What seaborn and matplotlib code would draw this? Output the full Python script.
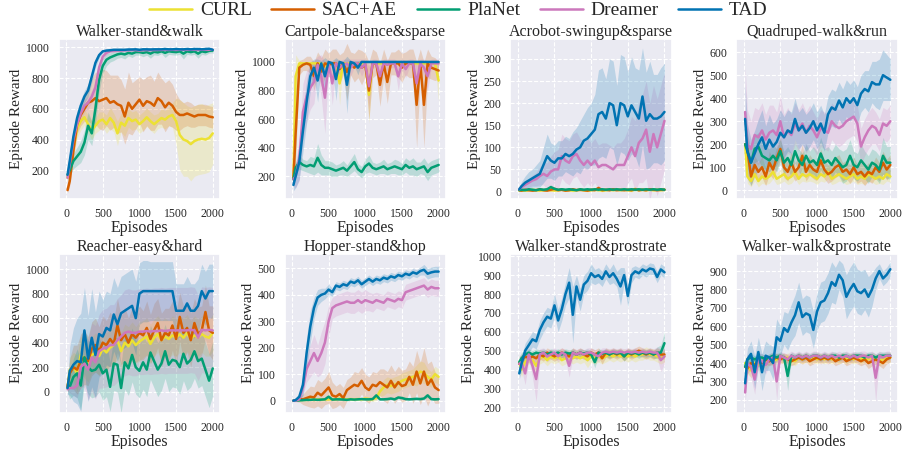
import matplotlib
matplotlib.use("Agg")
import matplotlib.pyplot as plt
import seaborn as sns
from matplotlib.ticker import MultipleLocator

# --- data (episodes every 50) ---
EPISODES = [20, 50, 100, 150, 200, 250, 300, 350, 400, 450,
            500, 550, 600, 650, 700, 750, 800, 850, 900, 950,
            1000, 1050, 1100, 1150, 1200, 1250, 1300, 1350, 1400, 1450,
            1500, 1550, 1600, 1650, 1700, 1750, 1800, 1850, 1900, 1950, 2000]

METHODS = ["CURL", "SAC+AE", "PlaNet", "Dreamer", "TAD"]
COLORS = ["#ECE133", "#D55E00", "#029E73", "#CC78BC", "#0173B2"]

# Walker-stand&walk
wsw_curl = [150, 220, 340, 470, 520, 545, 500, 460, 490, 520,
            530, 500, 540, 510, 440, 510, 490, 540, 520, 530,
            500, 520, 545, 520, 500, 520, 540, 530, 550, 560,
            520, 430, 400, 390, 370, 390, 400, 405, 400, 410, 440]
wsw_curl_sd = [30, 40, 50, 60, 60, 50, 60, 60, 50, 60,
               50, 60, 70, 60, 80, 60, 70, 60, 60, 60,
               60, 60, 60, 60, 60, 50, 60, 60, 60, 80,
               150, 230, 240, 230, 240, 230, 230, 230, 220, 220, 200]
wsw_sac = [70, 130, 330, 500, 560, 600, 640, 650, 670, 650,
           660, 670, 640, 650, 630, 620, 550, 640, 600, 630,
           660, 620, 650, 640, 620, 670, 650, 610, 640, 620,
           580, 560, 560, 570, 560, 550, 560, 560, 560, 550, 545]
wsw_sac_sd = [20, 30, 50, 60, 70, 80, 120, 150, 170, 180,
              200, 180, 180, 170, 190, 170, 180, 200, 170, 160,
              150, 170, 160, 180, 160, 170, 150, 160, 150, 140,
              120, 100, 80, 80, 80, 70, 70, 70, 70, 70, 70]
wsw_planet = [170, 200, 260, 290, 320, 380, 490, 440, 600, 790,
              880, 920, 935, 945, 955, 960, 955, 965, 960, 970,
              970, 965, 970, 960, 972, 968, 975, 965, 975, 972,
              970, 975, 960, 975, 970, 975, 960, 975, 970, 978, 980]
wsw_planet_sd = [30, 40, 50, 60, 70, 80, 90, 80, 100, 80,
                 50, 40, 30, 30, 25, 25, 30, 20, 25, 20,
                 20, 25, 20, 30, 20, 20, 15, 30, 20, 20,
                 20, 20, 35, 20, 20, 20, 30, 20, 20, 15, 15]
wsw_dreamer = [150, 240, 400, 500, 570, 620, 640, 680, 740, 870,
               940, 965, 975, 978, 980, 980, 982, 982, 983, 983,
               980, 983, 983, 983, 983, 984, 984, 985, 984, 985,
               984, 985, 985, 985, 985, 985, 985, 985, 985, 985, 985]
wsw_dreamer_sd = [20, 40, 50, 50, 40, 40, 40, 40, 40, 30,
                  20, 15, 10, 10, 10, 10, 10, 8, 8, 8,
                  8, 8, 8, 8, 8, 8, 8, 8, 8, 8,
                  8, 8, 8, 8, 8, 8, 8, 8, 8, 8, 8]
wsw_tad = [170, 260, 420, 540, 620, 680, 720, 810, 900, 950,
           975, 980, 982, 985, 985, 985, 985, 987, 987, 988,
           985, 988, 988, 987, 988, 988, 988, 990, 988, 988,
           990, 988, 988, 990, 988, 990, 990, 988, 990, 992, 985]
wsw_tad_sd = [20, 40, 50, 50, 40, 40, 40, 40, 30, 20,
              10, 10, 8, 8, 8, 8, 8, 8, 8, 8,
              8, 8, 8, 8, 8, 8, 8, 8, 8, 8,
              8, 8, 8, 8, 8, 8, 8, 8, 8, 8, 8]

# Cartpole-balance&sparse
cbs_curl = [200, 900, 990, 990, 990, 990, 990, 990, 990, 970,
            990, 990, 990, 850, 990, 990, 990, 990, 990, 990,
            990, 770, 990, 990, 990, 990, 990, 990, 990, 990,
            990, 990, 990, 990, 990, 990, 990, 990, 990, 990, 870]
cbs_curl_sd = [50, 150, 20, 10, 10, 10, 20, 10, 10, 40,
               10, 10, 10, 150, 10, 10, 10, 10, 10, 10,
               10, 200, 10, 10, 10, 10, 10, 10, 10, 10,
               10, 10, 10, 10, 10, 10, 10, 10, 10, 10, 150]
cbs_sac = [180, 500, 960, 980, 990, 980, 900, 990, 930, 990,
           980, 990, 990, 950, 990, 930, 990, 960, 990, 960,
           980, 800, 990, 990, 840, 990, 860, 990, 990, 990,
           960, 990, 990, 990, 700, 990, 700, 990, 960, 950, 940]
cbs_sac_sd = [50, 200, 50, 40, 50, 60, 100, 80, 100, 100,
              80, 100, 100, 100, 80, 200, 80, 100, 100, 120,
              80, 200, 100, 80, 150, 100, 150, 80, 80, 100,
              100, 80, 100, 100, 300, 100, 300, 100, 80, 80, 60]
cbs_planet = [180, 260, 300, 280, 270, 280, 270, 330, 280, 260,
              260, 250, 240, 250, 260, 240, 270, 300, 250, 230,
              270, 290, 260, 250, 260, 270, 250, 260, 270, 260,
              250, 280, 260, 270, 250, 260, 270, 230, 260, 270, 280]
cbs_planet_sd = [30, 40, 50, 40, 40, 60, 60, 100, 70, 50,
                 50, 50, 40, 40, 50, 40, 50, 60, 40, 40,
                 50, 60, 40, 40, 40, 50, 40, 40, 50, 50,
                 40, 50, 50, 60, 50, 40, 60, 60, 50, 50, 50]
cbs_dreamer = [180, 200, 320, 650, 760, 820, 860, 980, 900, 750,
               990, 850, 990, 960, 980, 990, 960, 990, 990, 960,
               990, 830, 990, 990, 900, 990, 980, 990, 990, 900,
               990, 950, 990, 990, 850, 990, 960, 900, 990, 990, 990]
cbs_dreamer_sd = [50, 80, 150, 200, 180, 150, 150, 60, 150, 250,
                  30, 150, 30, 50, 40, 30, 60, 30, 30, 60,
                  30, 150, 30, 30, 100, 30, 40, 30, 30, 100,
                  30, 60, 30, 30, 150, 30, 60, 100, 30, 30, 30]
cbs_tad = [140, 200, 300, 520, 720, 900, 960, 870, 990, 900,
           1000, 990, 880, 1000, 990, 840, 1000, 990, 960, 1000,
           1000, 1000, 1000, 1000, 1000, 1000, 1000, 1000, 1000, 1000,
           1000, 1000, 1000, 1000, 1000, 1000, 1000, 1000, 1000, 1000, 1000]
cbs_tad_sd = [40, 80, 120, 150, 150, 100, 60, 150, 20, 130,
              10, 20, 150, 10, 20, 200, 10, 20, 50, 10,
              5, 5, 5, 5, 5, 5, 5, 5, 5, 5,
              5, 5, 5, 5, 5, 5, 5, 5, 5, 5, 5]

# Acrobot-swingup&sparse
acro_curl = [2, 3, 2, 3, 4, 3, 2, 3, 4, 3,
             2, 3, 4, 3, 3, 2, 3, 4, 3, 2,
             3, 4, 3, 2, 3, 4, 3, 4, 3, 4,
             3, 2, 6, 3, 4, 3, 4, 3, 4, 3, 4]
acro_curl_sd = [2, 2, 2, 2, 3, 2, 2, 3, 2, 3,
                2, 3, 2, 3, 2, 3, 2, 3, 2, 3,
                2, 3, 2, 3, 2, 3, 2, 3, 2, 3,
                2, 3, 4, 3, 2, 3, 2, 3, 2, 3, 2]
acro_sac = [3, 2, 4, 3, 2, 3, 5, 3, 2, 4,
            6, 3, 4, 2, 3, 5, 3, 4, 3, 2,
            4, 3, 8, 3, 4, 3, 5, 3, 4, 3,
            4, 3, 5, 3, 4, 3, 5, 4, 3, 4, 4]
acro_sac_sd = [2, 2, 3, 2, 2, 2, 3, 2, 2, 3,
               4, 2, 3, 2, 2, 3, 2, 3, 2, 2,
               3, 2, 5, 2, 3, 2, 3, 2, 3, 2,
               3, 2, 3, 2, 3, 2, 3, 3, 2, 3, 3]
acro_planet = [3, 4, 3, 5, 4, 3, 5, 4, 5, 10,
               6, 4, 5, 4, 5, 4, 3, 5, 4, 5,
               4, 5, 4, 5, 4, 5, 4, 5, 4, 5,
               4, 5, 4, 5, 4, 5, 4, 5, 4, 5, 4]
acro_planet_sd = [2, 3, 2, 3, 3, 2, 3, 3, 3, 5,
                  4, 3, 3, 3, 3, 3, 2, 3, 3, 3,
                  3, 3, 3, 3, 3, 3, 3, 3, 3, 3,
                  3, 3, 3, 3, 3, 3, 3, 3, 3, 3, 3]
acro_dreamer = [5, 10, 15, 20, 25, 28, 35, 40, 35, 45,
                50, 50, 80, 70, 65, 80, 85, 70, 60, 70,
                60, 70, 55, 60, 60, 55, 50, 60, 60, 60,
                80, 100, 80, 110, 120, 140, 90, 130, 100, 130, 160]
acro_dreamer_sd = [3, 5, 8, 10, 12, 15, 20, 25, 30, 35,
                   40, 45, 50, 50, 50, 50, 50, 50, 50, 50,
                   50, 50, 50, 50, 50, 50, 50, 50, 50, 60,
                   60, 70, 80, 90, 100, 110, 110, 110, 110, 110, 110]
acro_tad = [5, 12, 20, 25, 30, 35, 40, 60, 80, 70,
            65, 75, 75, 85, 80, 85, 95, 100, 115, 120,
            130, 140, 175, 180, 165, 200, 195, 150, 200, 195,
            170, 195, 180, 165, 215, 160, 175, 165, 165, 170, 180]
acro_tad_sd = [5, 10, 15, 20, 20, 25, 30, 40, 50, 40,
               40, 40, 40, 40, 40, 50, 50, 60, 60, 70,
               70, 80, 100, 100, 90, 100, 100, 90, 110, 110,
               100, 110, 100, 110, 110, 110, 120, 100, 100, 110, 110]

# Quadruped-walk&run
quad_curl = [200, 60, 40, 70, 40, 60, 50, 60, 80, 50,
             60, 70, 50, 60, 80, 50, 70, 60, 70, 60,
             50, 70, 60, 80, 50, 60, 70, 60, 50, 60,
             70, 50, 60, 50, 70, 60, 50, 60, 50, 70, 60]
quad_curl_sd = [60, 30, 25, 30, 25, 30, 25, 30, 30, 25,
                30, 30, 25, 30, 30, 25, 30, 25, 30, 25,
                25, 30, 25, 30, 25, 30, 30, 25, 25, 30,
                30, 25, 30, 25, 30, 25, 25, 30, 25, 30, 25]
quad_sac = [200, 180, 60, 110, 80, 100, 60, 120, 90, 140,
            180, 100, 80, 120, 80, 100, 150, 80, 110, 90,
            80, 130, 90, 70, 80, 100, 110, 80, 90, 70,
            100, 70, 80, 60, 80, 70, 100, 80, 120, 90, 110]
quad_sac_sd = [80, 60, 40, 40, 40, 45, 40, 50, 40, 50,
               50, 45, 40, 45, 40, 45, 50, 40, 45, 40,
               40, 50, 40, 40, 40, 45, 45, 40, 40, 40,
               45, 40, 40, 40, 40, 40, 45, 40, 50, 45, 45]
quad_planet = [200, 170, 120, 180, 190, 150, 140, 130, 150, 130,
               170, 120, 140, 110, 170, 130, 110, 150, 120, 130,
               110, 160, 120, 130, 110, 140, 120, 100, 110, 150,
               110, 100, 130, 110, 90, 120, 110, 90, 150, 120, 120]
quad_planet_sd = [150, 80, 60, 60, 60, 50, 50, 50, 50, 50,
                  50, 50, 50, 50, 50, 50, 50, 50, 50, 60,
                  60, 70, 60, 60, 60, 60, 60, 70, 70, 70,
                  60, 60, 70, 60, 60, 60, 60, 60, 80, 70, 70]
quad_dreamer = [340, 200, 180, 240, 230, 260, 220, 250, 260, 240,
                300, 230, 260, 240, 290, 260, 290, 250, 280, 260,
                230, 270, 260, 250, 300, 280, 270, 280, 300, 310,
                320, 290, 190, 230, 260, 280, 270, 240, 290, 280, 300]
quad_dreamer_sd = [200, 150, 120, 120, 120, 120, 110, 120, 110, 100,
                   110, 100, 100, 90, 90, 90, 90, 90, 90, 80,
                   80, 80, 80, 80, 80, 80, 80, 80, 80, 80,
                   80, 80, 80, 80, 80, 80, 70, 70, 70, 70, 70]
quad_tad = [310, 170, 120, 160, 200, 230, 180, 220, 190, 210,
            250, 230, 260, 250, 310, 260, 280, 250, 270, 300,
            260, 290, 250, 330, 360, 350, 390, 360, 400, 380,
            400, 370, 420, 440, 430, 470, 460, 460, 500, 490, 480]
quad_tad_sd = [150, 120, 100, 100, 110, 120, 100, 110, 100, 100,
               100, 90, 90, 90, 90, 80, 80, 80, 80, 80,
               80, 80, 80, 80, 80, 80, 80, 80, 80, 80,
               80, 80, 80, 80, 90, 90, 100, 110, 110, 100, 90]

# Reacher-easy&hard
reach_curl = [40, 180, 200, 150, 300, 270, 230, 300, 320, 290,
              350, 320, 360, 380, 420, 330, 400, 370, 420, 380,
              410, 430, 450, 390, 440, 470, 420, 450, 430, 460,
              440, 470, 440, 480, 430, 460, 440, 470, 450, 440, 480]
reach_curl_sd = [40, 100, 120, 150, 150, 160, 150, 150, 160, 150,
                 150, 160, 150, 150, 160, 150, 150, 160, 150, 150,
                 160, 150, 150, 160, 150, 150, 160, 150, 150, 160,
                 150, 150, 160, 150, 150, 160, 150, 150, 160, 150, 150]
reach_sac = [40, 150, 200, 180, 250, 280, 250, 350, 380, 330,
             400, 380, 430, 390, 540, 420, 470, 400, 470, 440,
             480, 460, 520, 430, 500, 560, 420, 480, 460, 540,
             430, 610, 480, 520, 420, 560, 470, 500, 650, 500, 480]
reach_sac_sd = [40, 120, 180, 200, 220, 220, 200, 220, 220, 200,
                220, 200, 220, 200, 220, 200, 220, 200, 220, 200,
                220, 200, 220, 200, 220, 200, 220, 200, 220, 200,
                220, 200, 220, 200, 220, 200, 220, 200, 220, 200, 220]
reach_planet = [30, 40, 120, 150, 50, 280, 200, 170, 180, 220,
                150, 180, 40, 230, 220, 30, 240, 190, 300, 200,
                170, 240, 180, 320, 250, 180, 230, 330, 220, 260,
                250, 200, 310, 230, 260, 330, 250, 270, 180, 90, 190]
reach_planet_sd = [40, 100, 150, 200, 200, 220, 220, 220, 220, 220,
                   220, 220, 200, 220, 220, 200, 220, 220, 220, 220,
                   220, 220, 220, 220, 220, 220, 220, 220, 220, 220,
                   220, 220, 220, 220, 220, 220, 220, 220, 220, 220, 220]
reach_dreamer = [20, 30, 30, 50, 200, 230, 180, 280, 240, 330,
                 350, 360, 380, 380, 420, 450, 480, 490, 480, 480,
                 490, 490, 495, 490, 495, 495, 500, 495, 500, 500,
                 500, 500, 500, 500, 505, 500, 440, 505, 500, 505, 500]
reach_dreamer_sd = [20, 40, 60, 100, 150, 200, 250, 280, 300, 300,
                    320, 320, 330, 330, 340, 340, 350, 350, 350, 350,
                    350, 350, 350, 350, 350, 350, 350, 350, 350, 350,
                    350, 350, 350, 350, 350, 350, 350, 350, 350, 350, 350]
reach_tad = [30, 170, 220, 250, 240, 500, 270, 440, 300, 470,
             450, 520, 500, 630, 550, 640, 660, 680, 700, 600,
             800, 820, 820, 820, 820, 820, 820, 820, 820, 820,
             660, 660, 660, 720, 660, 660, 700, 820, 760, 820, 820]
reach_tad_sd = [50, 200, 300, 350, 400, 350, 350, 400, 350, 350,
                300, 300, 300, 300, 300, 300, 300, 300, 300, 300,
                250, 250, 250, 240, 240, 240, 240, 240, 240, 240,
                220, 220, 220, 220, 220, 220, 220, 220, 220, 220, 220]

# Hopper-stand&hop
hop_curl = [0, 0, 2, 3, 3, 4, 3, 5, 4, 5,
            5, 6, 5, 8, 6, 5, 6, 5, 6, 5,
            8, 6, 5, 10, 35, 50, 60, 55, 60, 65,
            75, 80, 85, 90, 95, 110, 105, 90, 80, 100, 90]
hop_curl_sd = [2, 2, 3, 3, 3, 4, 4, 5, 5, 5,
               5, 5, 5, 6, 6, 6, 6, 6, 6, 6,
               8, 8, 8, 10, 20, 30, 30, 30, 30, 30,
               30, 30, 30, 30, 40, 40, 40, 30, 30, 30, 30]
hop_sac = [0, 2, 5, 5, 10, 15, 12, 30, 20, 35,
           50, 20, 15, 25, 10, 40, 50, 60, 55, 75,
           50, 40, 60, 55, 70, 60, 50, 75, 50, 70,
           55, 60, 90, 60, 110, 65, 110, 60, 80, 50, 40]
hop_sac_sd = [3, 5, 10, 20, 30, 40, 40, 50, 50, 50,
              60, 50, 40, 40, 40, 40, 40, 50, 50, 50,
              50, 50, 50, 50, 50, 60, 60, 60, 60, 60,
              60, 60, 60, 70, 80, 80, 90, 80, 70, 60, 50]
hop_planet = [0, 0, 1, 2, 3, 3, 4, 3, 4, 5,
              15, 4, 5, 5, 4, 3, 5, 4, 5, 6,
              5, 5, 6, 20, 5, 5, 6, 8, 5, 12,
              10, 6, 5, 6, 7, 6, 8, 20, 6, 5, 6]
hop_planet_sd = [2, 2, 2, 3, 3, 3, 3, 3, 4, 4,
                 6, 4, 4, 4, 4, 4, 4, 4, 4, 4,
                 4, 4, 4, 8, 4, 4, 4, 4, 4, 5,
                 5, 4, 4, 4, 4, 4, 5, 8, 5, 5, 5]
hop_dreamer = [0, 0, 5, 50, 120, 150, 180, 150, 180, 220,
               300, 350, 360, 365, 370, 375, 370, 370, 380, 370,
               380, 375, 370, 380, 375, 370, 385, 380, 375, 385,
               380, 410, 415, 420, 425, 430, 435, 420, 430, 425, 425]
hop_dreamer_sd = [5, 5, 10, 30, 50, 60, 70, 60, 80, 80,
                  60, 40, 40, 40, 40, 40, 40, 40, 40, 40,
                  40, 35, 35, 30, 30, 30, 30, 30, 30, 30,
                  30, 30, 30, 30, 30, 30, 30, 30, 30, 30, 30]
hop_tad = [0, 2, 15, 60, 180, 280, 350, 390, 400, 405,
           420, 410, 435, 430, 440, 435, 450, 445, 455, 440,
           450, 460, 450, 460, 455, 465, 460, 470, 465, 475,
           470, 480, 475, 485, 480, 490, 495, 480, 485, 488, 488]
hop_tad_sd = [3, 5, 15, 40, 60, 60, 40, 30, 25, 20,
              20, 15, 15, 15, 15, 15, 15, 15, 15, 15,
              15, 15, 15, 15, 15, 15, 15, 15, 15, 15,
              15, 15, 15, 15, 15, 15, 20, 20, 20, 20, 20]

# Walker-stand&prostrate
wsp_curl = [440, 400, 440, 460, 450, 420, 460, 470, 450, 470,
            460, 470, 450, 460, 470, 460, 470, 460, 470, 450,
            470, 460, 470, 460, 470, 480, 470, 480, 470, 480,
            470, 480, 470, 480, 480, 490, 480, 480, 470, 460, 470]
wsp_curl_sd = [40, 40, 30, 30, 30, 40, 30, 30, 30, 30,
               30, 30, 30, 30, 30, 30, 30, 30, 30, 40,
               30, 30, 30, 30, 30, 30, 30, 30, 30, 30,
               30, 30, 30, 30, 30, 30, 30, 30, 30, 30, 30]
wsp_sac = [430, 450, 470, 460, 470, 460, 480, 470, 490, 480,
           470, 480, 490, 480, 470, 490, 480, 490, 480, 470,
           490, 480, 490, 460, 490, 480, 490, 480, 490, 470,
           490, 480, 490, 500, 490, 480, 490, 480, 490, 480, 480]
wsp_sac_sd = [30, 30, 25, 25, 25, 25, 25, 25, 25, 25,
              25, 25, 25, 25, 25, 25, 25, 25, 25, 25,
              25, 25, 25, 30, 25, 25, 25, 25, 25, 25,
              25, 25, 25, 25, 25, 25, 25, 25, 25, 25, 25]
wsp_planet = [440, 460, 480, 490, 480, 490, 485, 490, 480, 490,
              485, 490, 480, 490, 485, 490, 480, 490, 485, 490,
              480, 440, 490, 485, 490, 480, 490, 485, 490, 470,
              490, 485, 490, 480, 490, 485, 490, 480, 490, 490, 540]
wsp_planet_sd = [30, 30, 20, 20, 20, 20, 20, 20, 20, 20,
                 20, 20, 20, 20, 20, 20, 20, 20, 20, 20,
                 20, 30, 20, 20, 20, 20, 20, 20, 20, 25,
                 20, 20, 20, 20, 20, 20, 20, 20, 30, 40, 60]
wsp_dreamer = [430, 440, 380, 480, 420, 350, 480, 490, 470, 480,
               490, 470, 490, 480, 420, 490, 480, 490, 480, 490,
               490, 480, 470, 490, 495, 490, 495, 490, 495, 490,
               495, 490, 495, 490, 495, 490, 495, 490, 490, 450, 470]
wsp_dreamer_sd = [40, 40, 60, 30, 60, 120, 30, 25, 30, 25,
                  25, 30, 25, 25, 60, 25, 25, 25, 25, 25,
                  25, 25, 30, 25, 20, 20, 20, 20, 20, 20,
                  20, 20, 20, 20, 20, 20, 20, 20, 30, 60, 40]
wsp_tad = [380, 430, 500, 530, 560, 550, 610, 650, 680, 670,
           740, 660, 720, 800, 860, 690, 840, 770, 850, 870,
           910, 890, 900, 880, 920, 890, 910, 880, 840, 900,
           790, 900, 920, 910, 930, 920, 935, 930, 890, 930, 915]
wsp_tad_sd = [30, 40, 40, 40, 40, 40, 50, 50, 50, 50,
              60, 60, 60, 60, 80, 150, 60, 60, 50, 50,
              50, 40, 40, 40, 40, 40, 50, 40, 100, 40,
              60, 40, 30, 30, 30, 30, 30, 30, 30, 30, 30]

# Walker-walk&prostrate
wwp_curl = [400, 380, 360, 400, 390, 410, 400, 420, 410, 420,
            430, 420, 430, 420, 410, 430, 420, 430, 420, 430,
            420, 430, 420, 430, 420, 430, 420, 430, 420, 430,
            420, 430, 420, 430, 420, 430, 420, 410, 420, 430, 430]
wwp_curl_sd = [40, 40, 40, 30, 30, 30, 30, 25, 25, 25,
               25, 25, 25, 25, 25, 25, 25, 25, 25, 25,
               25, 25, 25, 25, 25, 25, 25, 25, 25, 25,
               25, 25, 25, 25, 25, 25, 25, 25, 25, 25, 25]
wwp_sac = [380, 370, 400, 390, 410, 400, 420, 410, 420, 430,
           420, 430, 420, 410, 420, 430, 420, 430, 410, 420,
           430, 420, 430, 420, 430, 410, 420, 430, 410, 420,
           430, 420, 410, 420, 400, 410, 420, 410, 400, 420, 430]
wwp_sac_sd = [30, 30, 30, 25, 25, 25, 25, 25, 25, 25,
              25, 25, 25, 25, 25, 25, 25, 25, 25, 25,
              25, 25, 25, 25, 25, 25, 25, 25, 25, 25,
              25, 25, 25, 25, 30, 25, 25, 25, 30, 25, 25]
wwp_planet = [380, 420, 430, 420, 430, 430, 420, 430, 440, 430,
              440, 430, 330, 440, 430, 440, 430, 440, 430, 440,
              440, 430, 440, 430, 440, 440, 430, 440, 440, 430,
              440, 440, 440, 430, 440, 440, 430, 440, 440, 440, 440]
wwp_planet_sd = [30, 25, 20, 20, 20, 20, 20, 20, 20, 20,
                 20, 20, 80, 20, 20, 20, 20, 20, 20, 20,
                 20, 20, 20, 20, 20, 20, 20, 20, 20, 20,
                 20, 20, 20, 20, 20, 20, 20, 20, 20, 20, 20]
wwp_dreamer = [240, 400, 380, 310, 420, 410, 390, 420, 430, 300,
               440, 430, 420, 440, 430, 440, 430, 440, 430, 440,
               440, 430, 440, 430, 440, 430, 440, 430, 440, 430,
               440, 430, 440, 440, 430, 440, 320, 440, 430, 440, 440]
wwp_dreamer_sd = [60, 50, 60, 80, 40, 40, 50, 30, 30, 100,
                  25, 25, 30, 25, 25, 25, 25, 25, 25, 25,
                  25, 25, 25, 25, 25, 25, 25, 25, 25, 25,
                  25, 25, 25, 25, 25, 25, 130, 25, 25, 25, 25]
wwp_tad = [290, 420, 450, 350, 460, 350, 440, 430, 400, 540,
           520, 590, 570, 620, 660, 730, 650, 670, 660, 580,
           680, 730, 740, 780, 840, 820, 880, 850, 760, 800,
           830, 790, 780, 800, 760, 800, 860, 900, 860, 880, 910]
wwp_tad_sd = [50, 60, 70, 90, 80, 100, 80, 70, 90, 100,
              80, 90, 100, 100, 110, 110, 100, 100, 100, 100,
              100, 110, 110, 110, 110, 100, 80, 90, 120, 120,
              120, 120, 120, 110, 110, 90, 60, 40, 40, 40, 40]

TITLES = ["Walker-stand&walk", "Cartpole-balance&sparse", "Acrobot-swingup&sparse",
          "Quadruped-walk&run", "Reacher-easy&hard", "Hopper-stand&hop",
          "Walker-stand&prostrate", "Walker-walk&prostrate"]
YLIMS = [(15, 1055), (45, 1160), (-16, 345), (-36, 657),
         (-174, 1126), (-47, 556), (170, 1014), (128, 995)]
YSTEPS = [200, 200, 50, 100, 200, 100, 100, 100]

PANELS = [
    [(wsw_curl, wsw_curl_sd), (wsw_sac, wsw_sac_sd), (wsw_planet, wsw_planet_sd),
     (wsw_dreamer, wsw_dreamer_sd), (wsw_tad, wsw_tad_sd)],
    [(cbs_curl, cbs_curl_sd), (cbs_sac, cbs_sac_sd), (cbs_planet, cbs_planet_sd),
     (cbs_dreamer, cbs_dreamer_sd), (cbs_tad, cbs_tad_sd)],
    [(acro_curl, acro_curl_sd), (acro_sac, acro_sac_sd), (acro_planet, acro_planet_sd),
     (acro_dreamer, acro_dreamer_sd), (acro_tad, acro_tad_sd)],
    [(quad_curl, quad_curl_sd), (quad_sac, quad_sac_sd), (quad_planet, quad_planet_sd),
     (quad_dreamer, quad_dreamer_sd), (quad_tad, quad_tad_sd)],
    [(reach_curl, reach_curl_sd), (reach_sac, reach_sac_sd), (reach_planet, reach_planet_sd),
     (reach_dreamer, reach_dreamer_sd), (reach_tad, reach_tad_sd)],
    [(hop_curl, hop_curl_sd), (hop_sac, hop_sac_sd), (hop_planet, hop_planet_sd),
     (hop_dreamer, hop_dreamer_sd), (hop_tad, hop_tad_sd)],
    [(wsp_curl, wsp_curl_sd), (wsp_sac, wsp_sac_sd), (wsp_planet, wsp_planet_sd),
     (wsp_dreamer, wsp_dreamer_sd), (wsp_tad, wsp_tad_sd)],
    [(wwp_curl, wwp_curl_sd), (wwp_sac, wwp_sac_sd), (wwp_planet, wwp_planet_sd),
     (wwp_dreamer, wwp_dreamer_sd), (wwp_tad, wwp_tad_sd)],
]

# --- style ---
sns.set_theme(style="darkgrid")
plt.rcParams["font.family"] = ["Liberation Serif", "DejaVu Serif"]
plt.rcParams["grid.linestyle"] = "--"
plt.rcParams["grid.linewidth"] = 0.8

fig, axes = plt.subplots(2, 4, figsize=(9.04, 4.49), dpi=100)
fig.subplots_adjust(left=0.065, right=0.993, top=0.913, bottom=0.08,
                    wspace=0.40, hspace=0.345)

for k, ax in enumerate(axes.flat):
    for (mean, sd), name, col in zip(PANELS[k], METHODS, COLORS):
        lo = [m - s for m, s in zip(mean, sd)]
        hi = [m + s for m, s in zip(mean, sd)]
        ax.fill_between(EPISODES, lo, hi, color=col, alpha=0.2, linewidth=0)
        sns.lineplot(x=EPISODES, y=mean, color=col, linewidth=1.8, label=name, ax=ax)
    ax.set_title(TITLES[k], fontsize=11.5, pad=2)
    ax.set_xlabel("Episodes", fontsize=11.5, labelpad=0)
    ax.set_ylabel("Episode Reward", fontsize=11, labelpad=2)
    ax.set_xlim(-100, 2100)
    ax.set_ylim(*YLIMS[k])
    ax.xaxis.set_major_locator(MultipleLocator(500))
    ax.yaxis.set_major_locator(MultipleLocator(YSTEPS[k]))
    ax.tick_params(labelsize=8.5, pad=0.5)
    ax.get_legend().remove()

handles, labels = axes.flat[0].get_legend_handles_labels()
fig.legend(handles, labels, loc="upper center", ncol=5, bbox_to_anchor=(0.507, 1.035),
           frameon=False, fontsize=14, handlelength=2.2, columnspacing=1.0,
           handletextpad=0.4)

plt.savefig("out.png", dpi=100)
